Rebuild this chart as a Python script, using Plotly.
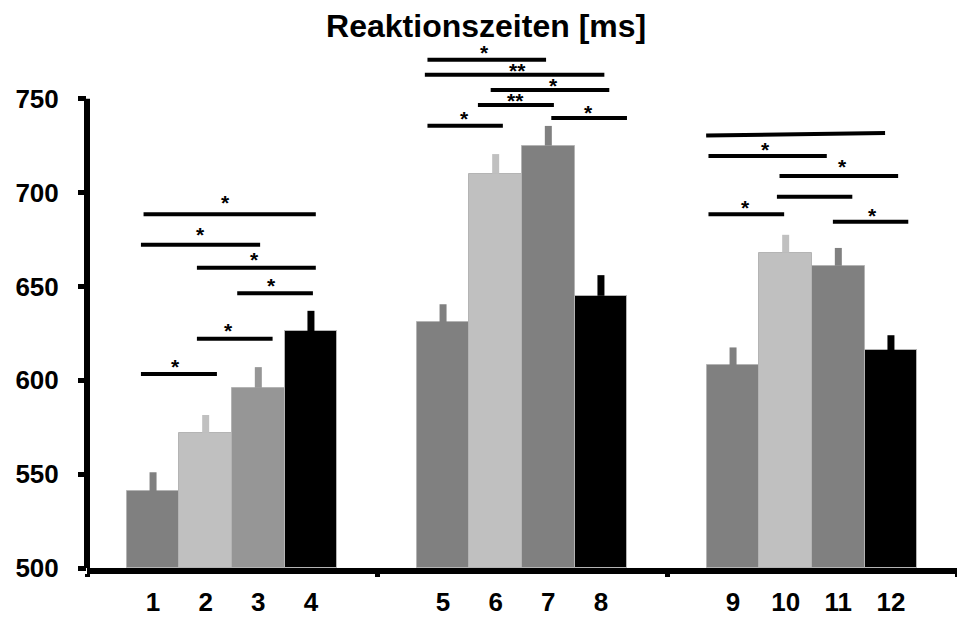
import plotly.graph_objects as go

# Mean reaction times (ms) and their standard errors, 12 conditions in 3 blocks of 4
labels = ["1", "2", "3", "4", "5", "6", "7", "8", "9", "10", "11", "12"]
means = [541, 572, 596, 626, 631, 710, 725, 645, 608, 668, 661, 616]
sems = [10, 9.5, 11, 11, 9.5, 10.5, 10.5, 11, 9.5, 9.5, 9.5, 8]
colors = ["#808080", "#c0c0c0", "#969696", "#000000",
          "#808080", "#c0c0c0", "#808080", "#000000",
          "#808080", "#c0c0c0", "#808080", "#000000"]

# Significance brackets: start/end on x (block units), height in ms (left/right end)
sig_x0 = [0.195, 0.186, 0.379, 0.518, 0.379, 0.186,
          1.174, 1.165, 1.392, 1.348, 1.601, 1.174,
          2.135, 2.143, 2.388, 2.379, 2.143, 2.572]
sig_x1 = [0.789, 0.597, 0.789, 0.779, 0.640, 0.448,
          1.583, 1.784, 1.801, 1.610, 1.862, 1.434,
          2.752, 2.551, 2.797, 2.639, 2.404, 2.832]
sig_y0 = [688.5, 672.2, 659.9, 646.4, 622.1, 603.3,
          770.8, 762.8, 754.6, 746.6, 739.7, 735.6,
          730.4, 719.5, 708.8, 697.8, 688.5, 684.4]
sig_y1 = [688.5, 672.2, 659.9, 646.4, 622.1, 603.3,
          770.8, 762.8, 754.6, 746.6, 739.7, 735.6,
          731.7, 719.5, 708.8, 697.8, 688.5, 684.4]

# Significance markers and where each one sits (x in block units, y in ms)
star_text = ["*", "*", "*", "*", "*", "*",
             "*", "**", "*", "**", "*", "*",
             "*", "*", "*", "*"]
star_x = [0.479, 0.390, 0.576, 0.635, 0.489, 0.306,
          1.371, 1.484, 1.607, 1.476, 1.729, 1.301,
          2.341, 2.605, 2.271, 2.708]
star_y = [696.1, 679.0, 665.7, 651.9, 627.9, 608.7,
          776.0, 766.5, 758.8, 750.8, 744.1, 741.0,
          724.5, 715.6, 693.8, 689.5]

y_ticks = [500, 550, 600, 650, 700, 750]
block_edges = [0, 1, 2, 3]

BAR_W = 0.1815
FONT = "Liberation Sans"

xpos = [i // 4 + 0.5 + (i % 4 - 1.5) * BAR_W for i in range(len(means))]

fig = go.Figure()
for x, m, e, c in zip(xpos, means, sems, colors):
    fig.add_trace(go.Bar(
        x=[x], y=[m - 500], base=500, width=BAR_W,
        marker=dict(color=c, line=dict(color="#b4b4b4", width=1)),
        error_y=dict(type="data", symmetric=False, array=[e], arrayminus=[0],
                     thickness=7, width=0, color=c),
        showlegend=False, hoverinfo="skip",
    ))

shapes = []
for x0, x1, y0, y1 in zip(sig_x0, sig_x1, sig_y0, sig_y1):
    shapes.append(dict(type="line", xref="x", yref="y", x0=x0, x1=x1, y0=y0, y1=y1,
                       line=dict(color="black", width=4)))

annotations = []
for t, sx, sy in zip(star_text, star_x, star_y):
    annotations.append(dict(x=sx, y=sy, xref="x", yref="y", text=t, showarrow=False,
                            yanchor="middle", yshift=-3, borderpad=0,
                            font=dict(family=FONT, size=21, color="black", weight="bold")))

# vertical axis line, ending at the top tick
shapes.append(dict(type="line", xref="paper", yref="y", x0=0, x1=0,
                   y0=y_ticks[0], y1=y_ticks[-1], line=dict(color="black", width=6)))

fig.update_layout(
    width=957, height=617,
    margin=dict(l=87, r=0, t=33, b=49),
    plot_bgcolor="white", paper_bgcolor="white",
    bargap=0,
    title=dict(text="<b>Reaktionszeiten [ms]</b>", x=0.508, xanchor="center",
               y=0.958, yanchor="middle", yref="container",
               font=dict(family=FONT, size=32, color="black")),
    xaxis=dict(range=[0, 3], showgrid=False, zeroline=False, automargin=False,
               showline=True, linewidth=6, linecolor="black",
               tickmode="array", tickvals=xpos, ticktext=labels, ticks="",
               ticklabelstandoff=6,
               tickfont=dict(family=FONT, size=26, color="black", weight="bold"),
               minor=dict(tickmode="array", tickvals=block_edges, ticks="outside",
                          ticklen=3, tickwidth=5, tickcolor="black")),
    yaxis=dict(range=[500, 785], showgrid=False, zeroline=False, showline=False,
               automargin=False,
               tickmode="array", tickvals=y_ticks, ticks="outside",
               ticklen=8, tickwidth=5, tickcolor="black",
               ticklabelstandoff=14,
               tickfont=dict(family=FONT, size=26, color="black", weight="bold")),
    shapes=shapes,
    annotations=annotations,
)

fig.write_html("out.html")
